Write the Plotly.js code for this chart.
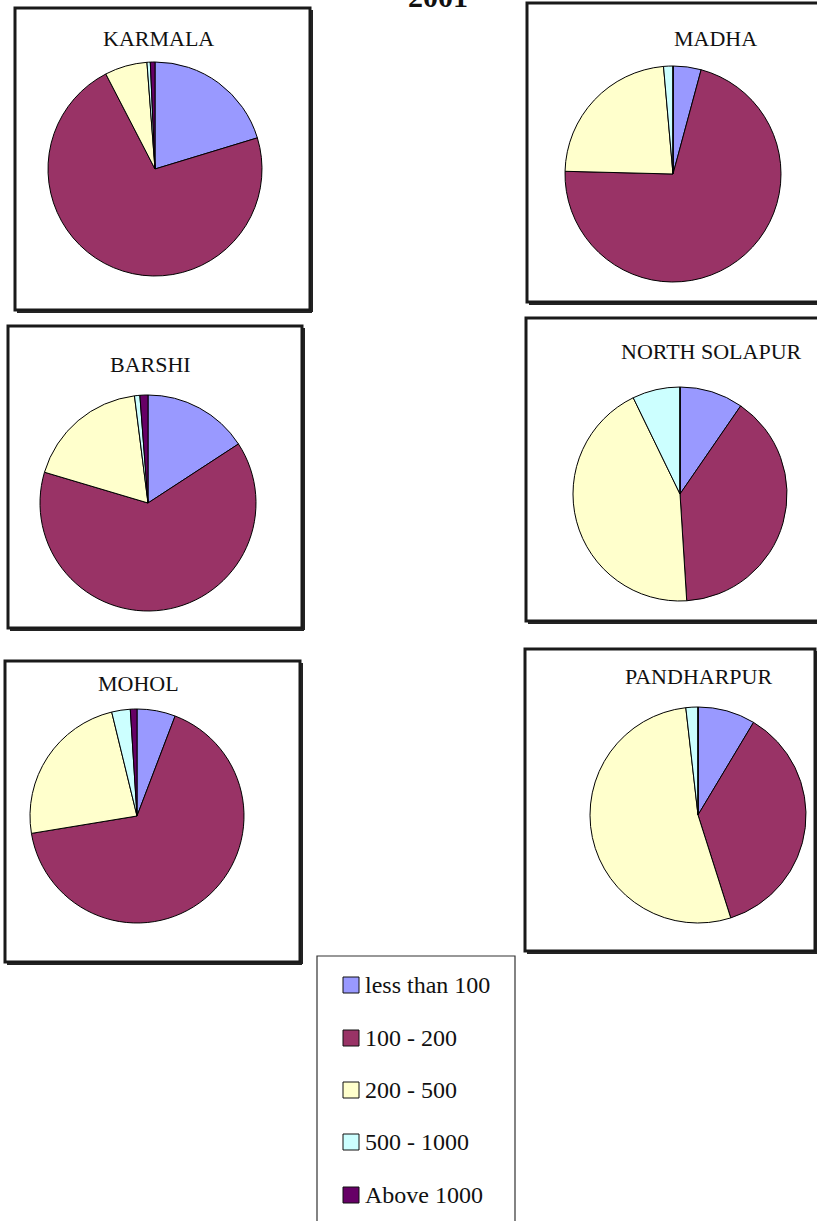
<!DOCTYPE html>
<html>
<head>
<meta charset="utf-8">
<script src="https://cdn.plot.ly/plotly-3.0.1.min.js"></script>
<style>html,body{margin:0;padding:0;background:#fff;} #chart{width:817px;height:1221px;}</style>
</head>
<body>
<div id="chart"></div>
<script>
// ---- data ----
const categories = ['less than 100', '100 - 200', '200 - 500', '500 - 1000', 'Above 1000'];
const colors = ['#9999FF', '#993366', '#FFFFCC', '#CCFFFF', '#660066'];
const districts = ['KARMALA', 'MADHA', 'BARSHI', 'NORTH SOLAPUR', 'MOHOL', 'PANDHARPUR'];
const karmala = [20.3, 72.1, 6.4, 0.5, 0.7];
const madha = [4.2, 71.2, 23.2, 1.4, 0];
const barshi = [15.8, 63.8, 18.4, 0.8, 1.2];
const northSolapur = [9.6, 39.4, 43.8, 7.2, 0];
const mohol = [5.8, 66.6, 23.8, 2.8, 1.0];
const pandharpur = [8.6, 36.5, 53.1, 1.8, 0];
const chartTitle = '2001';

// ---- layout (pixel positions) ----
const W = 817, H = 1221;
const panels = [
  {vals: karmala,      cx: 155, cy: 169, r: 107, box: [15, 8, 310, 310],   tx: 158, ty: 38},
  {vals: madha,        cx: 673, cy: 174, r: 108, box: [527, 3, 822, 302],  tx: 715, ty: 38},
  {vals: barshi,       cx: 148, cy: 503, r: 108, box: [8, 326, 302, 628],  tx: 150, ty: 364},
  {vals: northSolapur, cx: 680, cy: 494, r: 107, box: [526, 318, 822, 621], tx: 711, ty: 352},
  {vals: mohol,        cx: 137, cy: 816, r: 107, box: [5, 661, 300, 962],  tx: 138, ty: 683},
  {vals: pandharpur,   cx: 698, cy: 815, r: 108, box: [525, 649, 815, 951], tx: 698, ty: 676}
];
const px = x => x / W;
const py = y => 1 - y / H;

const traces = panels.map((p, i) => ({
  type: 'pie',
  name: districts[i],
  labels: categories,
  values: p.vals,
  sort: false,
  direction: 'clockwise',
  rotation: 0,
  textinfo: 'none',
  hoverinfo: 'label+percent',
  showlegend: false,
  marker: {colors: colors, line: {color: '#000', width: 1}},
  domain: {x: [px(p.cx - p.r), px(p.cx + p.r)], y: [py(p.cy + p.r), py(p.cy - p.r)]}
}));

const shapes = [];
const annotations = [];
const serif = '"Liberation Serif", "Times New Roman", serif';

panels.forEach((p, i) => {
  const [x0, y0, x1, y1] = p.box;
  shapes.push({type: 'rect', xref: 'paper', yref: 'paper', x0: px(x0), x1: px(x1), y0: py(y1), y1: py(y0),
    line: {color: '#1a1a1a', width: 3}, fillcolor: 'rgba(0,0,0,0)'});
  // shadow on bottom and right
  shapes.push({type: 'line', xref: 'paper', yref: 'paper', x0: px(x0 + 2), x1: px(x1 + 2), y0: py(y1 + 2), y1: py(y1 + 2),
    line: {color: '#222', width: 2}});
  shapes.push({type: 'line', xref: 'paper', yref: 'paper', x0: px(x1 + 2), x1: px(x1 + 2), y0: py(y0 + 2), y1: py(y1 + 2),
    line: {color: '#222', width: 2}});
  annotations.push({xref: 'paper', yref: 'paper', x: px(p.tx), y: py(p.ty), xanchor: 'center', yanchor: 'middle',
    text: districts[i], showarrow: false, font: {family: serif, size: 22, color: '#111'}});
});

// legend box
const lg = {x0: 317, y0: 956, x1: 515, y1: 1230, sq: 16, sqx: 343, tx: 363, rows: [985, 1038, 1090, 1142, 1195]};
shapes.push({type: 'rect', xref: 'paper', yref: 'paper', x0: px(lg.x0), x1: px(lg.x1), y0: py(lg.y1), y1: py(lg.y0),
  line: {color: '#333', width: 1.2}, fillcolor: 'rgba(0,0,0,0)'});
categories.forEach((c, i) => {
  const yc = lg.rows[i];
  shapes.push({type: 'rect', xref: 'paper', yref: 'paper', x0: px(lg.sqx), x1: px(lg.sqx + lg.sq),
    y0: py(yc + lg.sq / 2), y1: py(yc - lg.sq / 2), line: {color: '#111', width: 1}, fillcolor: colors[i]});
  annotations.push({xref: 'paper', yref: 'paper', x: px(lg.tx), y: py(yc), xanchor: 'left', yanchor: 'middle',
    text: c, showarrow: false, font: {family: serif, size: 24, color: '#111'}});
});

// main title (cut off at top, as in the reference)
annotations.push({xref: 'paper', yref: 'paper', x: px(438), y: py(-3), xanchor: 'center', yanchor: 'middle',
  text: '<b>' + chartTitle + '</b>', showarrow: false, font: {family: serif, size: 30, color: '#111'}});

const layout = {
  width: W, height: H,
  margin: {l: 0, r: 0, t: 0, b: 0},
  paper_bgcolor: '#fff', plot_bgcolor: '#fff',
  showlegend: false,
  shapes: shapes,
  annotations: annotations
};

Plotly.newPlot('chart', traces, layout, {displayModeBar: false, staticPlot: true});
</script>
</body>
</html>
